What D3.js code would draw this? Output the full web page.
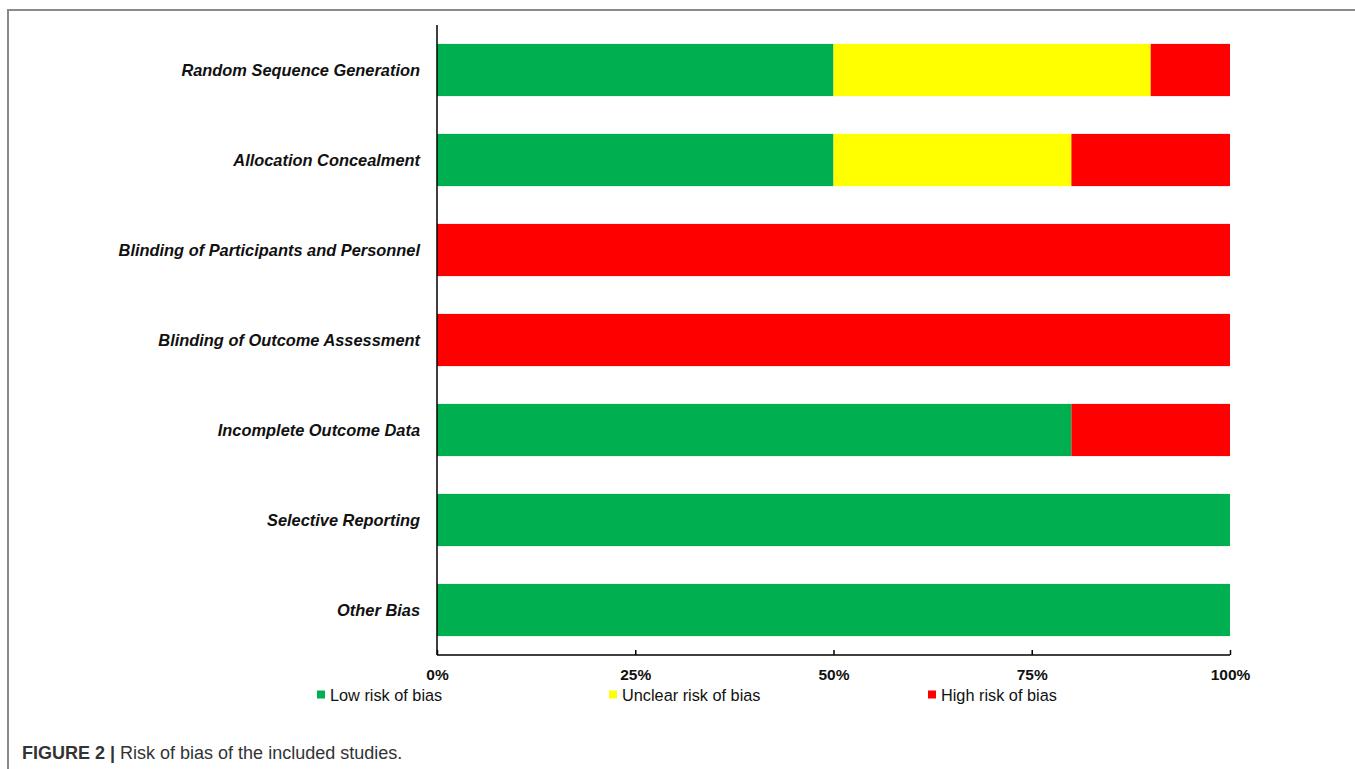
<!DOCTYPE html>
<html>
<head>
<meta charset="utf-8">
<script src="https://d3js.org/d3.v7.min.js"></script>
<style>
  body { margin: 0; background: #fff; }
  svg { display: block; font-family: "Liberation Sans", Arial, sans-serif; }
</style>
</head>
<body>
<svg id="chart" width="1355" height="769"></svg>
<script>
const domains = [
  'Random Sequence Generation',
  'Allocation Concealment',
  'Blinding of Participants and Personnel',
  'Blinding of Outcome Assessment',
  'Incomplete Outcome Data',
  'Selective Reporting',
  'Other Bias'
];
const lowRisk     = [50, 50, 0, 0, 80, 100, 100];
const unclearRisk = [40, 30, 0, 0, 0, 0, 0];
const highRisk    = [10, 20, 100, 100, 20, 0, 0];
const seriesNames = ['Low risk of bias', 'Unclear risk of bias', 'High risk of bias'];
const seriesColors = ['#00b050', '#ffff00', '#ff0000'];
const tickValues = [0, 25, 50, 75, 100];

const svg = d3.select('#chart');

// figure frame (top + left rule)
svg.append('path')
  .attr('d', 'M8,769 L8,10 L1355,10')
  .attr('fill', 'none')
  .attr('stroke', '#8a8a8a')
  .attr('stroke-width', 2);

const x = d3.scaleLinear().domain([0, 100]).range([437, 1230]);
const y = d3.scaleBand().domain(domains).range([25, 655]).paddingInner(0.42).paddingOuter(0.21);

const rows = domains.map((d, i) => ({ name: d, vals: [lowRisk[i], unclearRisk[i], highRisk[i]] }));

rows.forEach(row => {
  let acc = 0;
  row.vals.forEach((v, k) => {
    if (v > 0) {
      svg.append('rect')
        .attr('x', x(acc))
        .attr('y', y(row.name))
        .attr('width', x(acc + v) - x(acc))
        .attr('height', y.bandwidth())
        .attr('fill', seriesColors[k]);
    }
    acc += v;
  });
});

// category labels
svg.append('g').selectAll('text').data(domains).join('text')
  .attr('x', 420)
  .attr('y', d => y(d) + y.bandwidth() / 2)
  .attr('dy', '0.35em')
  .attr('text-anchor', 'end')
  .attr('font-size', 16.4)
  .attr('font-weight', 'bold')
  .attr('font-style', 'italic')
  .attr('fill', '#111')
  .text(d => d);

// y axis line
svg.append('line')
  .attr('x1', 437).attr('x2', 437)
  .attr('y1', 25).attr('y2', 655)
  .attr('stroke', '#000').attr('stroke-width', 1.5);

// x axis
const xAxis = d3.axisBottom(x)
  .tickValues(tickValues)
  .tickSize(-5)
  .tickPadding(14)
  .tickFormat(d => d + '%');
const gx = svg.append('g').attr('transform', 'translate(0,655)').call(xAxis);
gx.select('.domain').attr('stroke', '#000').attr('stroke-width', 1.5).attr('d', 'M437,0H1230');
gx.selectAll('.tick line').attr('stroke', '#000').attr('stroke-width', 1.5);
gx.selectAll('.tick text')
  .attr('font-size', 15.5)
  .attr('font-weight', 'bold')
  .attr('font-family', '"Liberation Sans", Arial, sans-serif')
  .attr('fill', '#111');

// legend
const legendX = [317, 609, 928];
const lg = svg.append('g').selectAll('g').data(seriesNames).join('g')
  .attr('transform', (d, i) => `translate(${legendX[i]},695)`);
lg.append('rect')
  .attr('x', 0).attr('y', -4.5)
  .attr('width', 8).attr('height', 8)
  .attr('fill', (d, i) => seriesColors[i]);
lg.append('text')
  .attr('x', 13)
  .attr('dy', '0.35em')
  .attr('font-size', 16.3)
  .attr('fill', '#111')
  .text(d => d);

// caption
const cap = svg.append('text')
  .attr('x', 22).attr('y', 759)
  .attr('font-size', 18)
  .attr('fill', '#333');
cap.append('tspan').attr('font-weight', 'bold').text('FIGURE 2 | ');
cap.append('tspan').text('Risk of bias of the included studies.');
</script>
</body>
</html>
